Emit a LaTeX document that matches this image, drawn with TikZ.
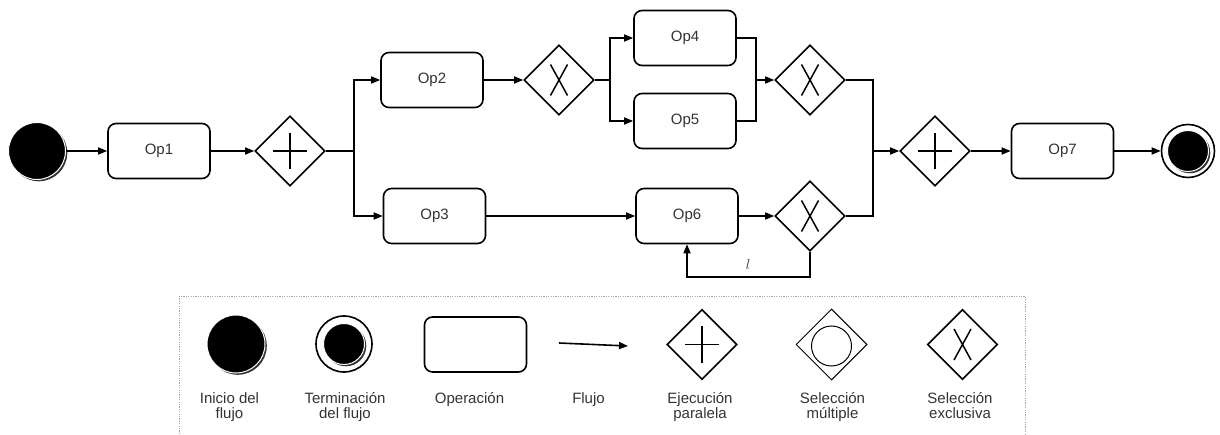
\documentclass[tikz,border=0pt]{standalone}
\usepackage{fontspec}
\setmainfont{Liberation Sans}
\usetikzlibrary{arrows.meta,shapes.geometric,shadows}
\definecolor{txt}{RGB}{51,51,51}
\definecolor{legframe}{RGB}{165,165,165}

\tikzset{
  every node/.style={font=\fontsize{15}{15.5}\selectfont, text=txt},
  flow/.style={line width=1.6pt, -{Triangle[length=9pt,width=7pt]}},
  link/.style={line width=1.6pt},
  op/.style={draw, line width=1.6pt, rounded corners=8pt,
    minimum width=102pt, minimum height=55pt, inner sep=0pt},
  gate/.style={draw, diamond, aspect=1, line width=1.6pt,
    minimum width=70pt, minimum height=70pt, inner sep=0pt},
  pargate/.style={gate, path picture={
    \draw[line width=1.5pt]
      ([xshift=-17pt]path picture bounding box.center) -- ([xshift=17pt]path picture bounding box.center)
      ([yshift=-18pt]path picture bounding box.center) -- ([yshift=18pt]path picture bounding box.center);}},
  xgate/.style={gate, path picture={
    \draw[line width=1.5pt]
      ([shift={(-8.5pt,15.5pt)}]path picture bounding box.center) -- ([shift={(8.5pt,-15.5pt)}]path picture bounding box.center)
      ([shift={(8.5pt,15.5pt)}]path picture bounding box.center) -- ([shift={(-8.5pt,-15.5pt)}]path picture bounding box.center);}},
  mulgate/.style={draw, diamond, aspect=1, line width=1pt,
    minimum width=71pt, minimum height=71pt, inner sep=0pt, path picture={
    \draw[line width=1pt] ([yshift=-1.5pt]path picture bounding box.center) circle (20pt);}},
  startev/.style={circle, fill=black, draw=white, line width=1pt, inner sep=0pt,
    minimum size=57pt,
    drop shadow={shadow xshift=1.8pt, shadow yshift=-1.8pt, fill=black!80, opacity=1}},
  endring/.style={circle, draw=black, fill=white, line width=1.6pt, inner sep=0pt,
    minimum size=53pt},
  legtext/.style={anchor=north, align=center, inner sep=0pt},
}

\begin{document}
\begin{tikzpicture}[x=1pt, y=-1pt]
\useasboundingbox (0,0) rectangle (1220,435);

% ---- process ----
\node[startev] (start) at (37,151) {};
\node[op] (op1) at (159,151) {Op1};
\node[pargate] (pg1) at (290,151) {};
\coordinate (split1) at (354,151);
\node[op] (op2) at (432,80) {Op2};
\node[op] (op3) at (434.5,216) {Op3};
\node[xgate] (x1) at (559,80) {};
\coordinate (split2) at (610,80);
\node[op] (op4) at (685,38) {Op4};
\node[op] (op5) at (685,121) {Op5};
\coordinate (join2) at (756,80);
\node[xgate] (x2) at (810,80) {};
\node[op] (op6) at (687,216) {Op6};
\node[xgate] (x3) at (810,216) {};
\coordinate (loopmid) at (748,277);
\coordinate (join3) at (873,151);
\node[pargate] (pg2) at (935,151) {};
\node[op] (op7) at (1062.5,151) {Op7};
\node[endring] (endo) at (1188,151) {};
\node[startev, minimum size=41pt] (endi) at (1188,151) {};

\draw[flow] (start) -- (op1);
\draw[flow] (op1) -- (pg1);
\draw[link] (pg1) -- (split1);
\draw[flow] (split1) |- (op2);
\draw[flow] (split1) |- (op3);
\draw[flow] (op2) -- (x1);
\draw[link] (x1) -- (split2);
\draw[flow] (split2) |- (op4);
\draw[flow] (split2) |- (op5);
\draw[link] (op4.east) -| (join2);
\draw[link] (op5.east) -| (join2);
\draw[flow] (join2) -- (x2);
\draw[flow] (op3) -- (op6);
\draw[flow] (op6) -- (x3);
\draw[flow] (x3.south) |- (loopmid) -| (op6.south);
\node (lbl) at (748,265) {$l$};
\draw[link] (x2.east) -| (join3);
\draw[link] (x3.east) -| (join3);
\draw[flow] (join3) -- (pg2);
\draw[flow] (pg2) -- (op7);
\draw[flow] (op7) -- (endo);

% ---- legend ----
\draw[legframe, line width=0.9pt, dash pattern=on 1.2pt off 1.2pt]
  (179,296) rectangle (1025,450);

\node[startev, minimum size=58pt] (lstart) at (236,344) {};
\node[endring, minimum size=56pt] (lendo) at (344,344) {};
\node[startev, minimum size=41pt] (lendi) at (344,344) {};
\node[op] (lop) at (475.5,344.5) {};
\coordinate (fa) at (559,343);
\coordinate (fb) at (628,346);
\draw[flow] (fa) -- (fb);
\node[pargate] (lpar) at (702,344.5) {};
\node[mulgate] (lmul) at (831.5,344.5) {};
\node[xgate] (lexc) at (962.5,344.5) {};

\node[legtext] (t1) at (229.5,392) {Inicio del\\flujo};
\node[legtext] (t2) at (345,392) {Terminación\\del flujo};
\node[legtext] (t3) at (469.5,392) {Operación};
\node[legtext] (t4) at (588.5,392) {Flujo};
\node[legtext] (t5) at (700,392) {Ejecución\\paralela};
\node[legtext] (t6) at (832.5,392) {Selección\\múltiple};
\node[legtext] (t7) at (960,392) {Selección\\exclusiva};
\end{tikzpicture}
\end{document}
